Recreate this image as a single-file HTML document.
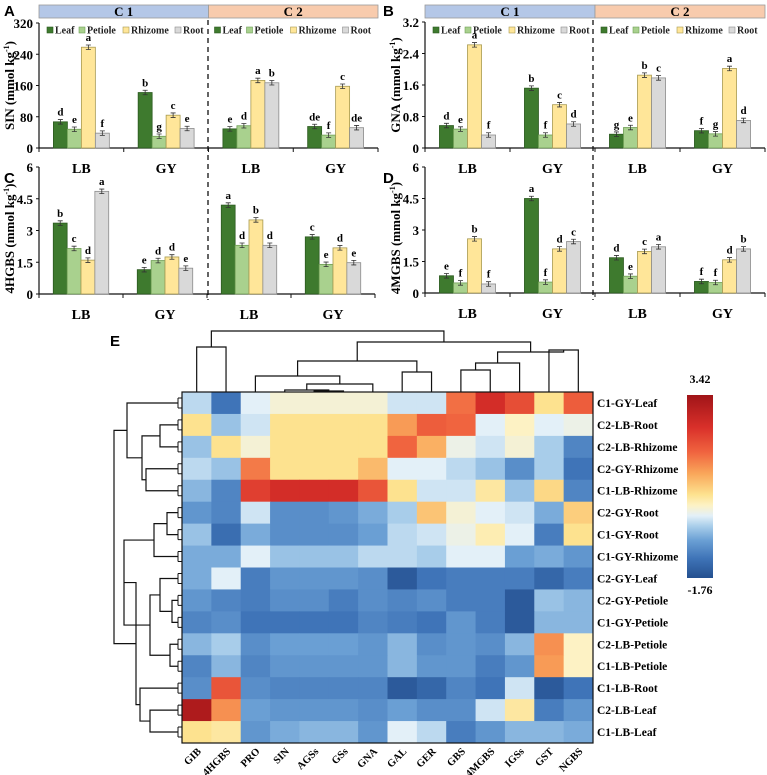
<!DOCTYPE html>
<html><head><meta charset="utf-8">
<style>
html,body{margin:0;padding:0;background:#fff;}
svg{display:block;font-family:"Liberation Serif",serif;}
.pl{font-family:"Liberation Sans",sans-serif;font-weight:bold;font-size:15px;}
</style></head>
<body>
<svg id="fig" width="767" height="775" viewBox="0 0 767 775" xmlns="http://www.w3.org/2000/svg">
<g id="bars"></g>
<g id="heat"></g>
</svg>
<script>
// ---------- bar chart data ----------
const categories = ["LB","GY","LB","GY"];
const conditions = ["C 1","C 2"];
const tissues = ["Leaf","Petiole","Rhizome","Root"];
const sinValues = [[67,48,258,38],[142,30,84,50],[49,57,173,167],[55,33,158,52]];
const sinLetters = [["d","e","a","f"],["b","g","c","e"],["e","d","a","b"],["de","f","c","de"]];
const gnaValues = [[0.57,0.48,2.62,0.33],[1.52,0.33,1.1,0.61],[0.35,0.52,1.85,1.78],[0.44,0.36,2.02,0.7]];
const gnaLetters = [["d","e","a","f"],["b","f","c","d"],["g","e","b","c"],["f","g","a","d"]];
const hgbsValues = [[3.35,2.15,1.6,4.85],[1.15,1.58,1.75,1.22],[4.2,2.3,3.5,2.3],[2.7,1.4,2.18,1.48]];
const hgbsLetters = [["b","c","d","a"],["e","d","d","e"],["a","d","b","d"],["c","e","d","e"]];
const mgbsValues = [[0.82,0.48,2.58,0.43],[4.5,0.52,2.1,2.45],[1.68,0.8,1.98,2.2],[0.55,0.5,1.58,2.1]];
const mgbsLetters = [["e","f","b","f"],["a","f","d","c"],["d","e","c","a"],["f","f","d","b"]];
const sinTicks = [0,80,160,240,320];
const gnaTicks = ["0","0.8","1.6","2.4","3.2"];
const sixTicks = ["0","1.5","3","4.5","6"];

// ---------- heatmap data ----------
const hmCols = ["GIB","4HGBS","PRO","SIN","AGSs","GSs","GNA","GAL","GER","GBS","4MGBS","IGSs","GST","NGBS"];
const hmRows = ["C1-GY-Leaf","C2-LB-Root","C2-LB-Rhizome","C2-GY-Rhizome","C1-LB-Rhizome","C2-GY-Root","C1-GY-Root","C1-GY-Rhizome","C2-GY-Leaf","C2-GY-Petiole","C1-GY-Petiole","C2-LB-Petiole","C1-LB-Petiole","C1-LB-Root","C2-LB-Leaf","C1-LB-Leaf"];
const hmValues = [
[-0.2,-1.2,0.0,0.2,0.2,0.2,0.2,-0.1,-0.1,1.7,2.6,2.1,0.6,1.9],
[0.6,-0.4,-0.1,0.6,0.6,0.6,0.6,1.3,1.9,1.8,0.0,0.3,0.0,0.1],
[-0.4,0.6,0.2,0.6,0.6,0.6,0.6,1.8,1.1,0.1,-0.1,0.2,-0.3,-1.0],
[-0.2,-0.4,1.6,0.6,0.6,0.6,1.0,0.0,0.0,-0.2,-0.4,-0.9,-0.3,-1.2],
[-0.5,-1.0,2.3,2.6,2.6,2.6,2.0,0.6,-0.1,-0.1,0.5,-0.4,0.7,-1.0],
[-0.8,-1.0,-0.1,-0.9,-0.9,-0.8,-0.6,-0.3,0.9,0.2,0.0,-0.1,-0.6,0.8],
[-0.4,-1.3,-0.6,-0.9,-0.9,-0.9,-0.7,-0.2,-0.1,0.1,0.4,0.0,-1.1,0.6],
[-0.6,-0.6,0.0,-0.4,-0.4,-0.4,-0.2,-0.2,-0.3,0.0,0.0,-0.7,-0.6,-0.8],
[-0.6,0.0,-1.1,-0.8,-0.8,-0.8,-0.9,-1.6,-1.2,-1.1,-1.1,-1.1,-1.4,-1.1],
[-0.8,-1.0,-1.1,-0.9,-0.9,-1.1,-0.9,-1.0,-0.9,-1.1,-1.1,-1.6,-0.4,-0.5],
[-1.0,-0.9,-1.2,-1.2,-1.2,-1.2,-1.0,-1.1,-1.2,-0.8,-1.1,-1.6,-0.5,-0.5],
[-0.5,-0.3,-0.9,-0.7,-0.7,-0.7,-0.8,-0.5,-0.9,-0.8,-0.9,-0.5,1.4,0.3],
[-1.0,-0.5,-1.0,-0.8,-0.8,-0.8,-0.8,-0.5,-0.8,-0.8,-1.1,-0.8,1.3,0.3],
[-0.9,2.0,-0.9,-1.0,-1.0,-1.0,-1.0,-1.6,-1.4,-1.0,-1.2,-0.1,-1.6,-1.2],
[3.2,1.4,-0.7,-0.8,-0.8,-0.8,-0.9,-0.7,-0.9,-0.9,-0.1,0.5,-1.1,-0.8],
[0.6,0.5,-0.8,-0.6,-0.5,-0.5,-0.8,0.0,-0.2,-1.1,-0.8,-0.5,-0.5,-0.6]];
const hmRange = [-1.76, 3.42];

const NS="http://www.w3.org/2000/svg";
function mk(parent, tag, attrs, text){
  const e=document.createElementNS(NS,tag);
  for(const k in attrs) e.setAttribute(k,attrs[k]);
  if(text!==undefined) e.textContent=text;
  parent.appendChild(e); return e;
}
const barsG=document.getElementById('bars');
const fills=["#3e7a2e","#a9d18e","#ffe699","#d9d9d9"];
const strokes=["#2c5a20","#6f9f55","#a89a50","#8c8c8c"];

function panel(o){
  const g=mk(barsG,'g',{});
  
  
  const maxV=o.max;
  const ys=v=>o.y0-(v/maxV)*(o.y0-o.yt);
  const cw=(o.x1-o.x0)/4, bw=cw*0.165;
  if(o.header){
    const mid=(o.x0+o.x1)/2;
    [[o.x0,mid,"#b4c7e7",conditions[0]],[mid,o.x1,"#f8cbad",conditions[1]]].forEach((h,i)=>{
      const r=mk(g,'rect',{x:h[0],y:5,width:h[1]-h[0],height:13,fill:h[2],stroke:"#9a9a9a","stroke-width":0.8});
      
      
      const t=mk(g,'text',{x:(h[0]+h[1])/2,y:16,"text-anchor":"middle","font-size":13,"font-weight":"bold"},h[3]);
      
      
    });
    [o.x0+8,mid+6].forEach((lx,li)=>{
      const offs=[0,32,76,128];
      tissues.forEach((ts,k)=>{
        const sw=mk(g,'rect',{x:lx+offs[k],y:27,width:6,height:6,fill:fills[k],stroke:strokes[k],"stroke-width":0.6});
        
        
        const t=mk(g,'text',{x:lx+offs[k]+8,y:33.5,"font-size":10,"font-weight":"bold",fill:"#222"},ts);
        
        
      });
    });
  }
  const ax=mk(g,'path',{d:`M${o.x0},${o.yt} L${o.x0},${o.y0} L${o.x1},${o.y0}`,fill:"none",stroke:"#111","stroke-width":1.2});
  
  
  o.ticks.forEach((tk,i)=>{
    const v=maxV*i/(o.ticks.length-1);
    const y=ys(v);
    mk(g,'line',{x1:o.x0-3,x2:o.x0,y1:y,y2:y,stroke:"#111","stroke-width":1});
    const t=mk(g,'text',{x:o.x0-6,y:y+5,"text-anchor":"end","font-size":13,"font-weight":"bold"},tk);
    
    
  });
  for(let c=0;c<=4;c++){ const x=o.x0+c*cw; mk(g,'line',{x1:x,x2:x,y1:o.y0,y2:o.y0+4,stroke:"#111","stroke-width":1}); }
  categories.forEach((cat,c)=>{
    const t=mk(g,'text',{x:o.x0+(c+0.5)*cw,y:o.y0+25,"text-anchor":"middle","font-size":14,"font-weight":"bold"},cat);
    
    
    o.vals[c].forEach((v,k)=>{
      const bx=o.x0+c*cw+(cw-4*bw)/2+k*bw;
      const y=ys(v);
      const r=mk(g,'rect',{x:bx,y:y,width:bw,height:o.y0-y,fill:fills[k],stroke:strokes[k],"stroke-width":0.8});
      
      
      const e=(o.y0-o.yt)*0.018;
      mk(g,'path',{d:`M${bx+bw/2},${y-e}V${y+e}M${bx+bw/2-2.5},${y-e}h5M${bx+bw/2-2.5},${y+e}h5`,stroke:"#333","stroke-width":0.8,fill:"none"});
      const lt=mk(g,'text',{x:bx+bw/2,y:y-e-4,"text-anchor":"middle","font-size":11,"font-weight":"bold"},o.letters[c][k]);
      
      
    });
  });
  const yt=mk(g,'text',{x:0,y:0,"text-anchor":"middle","font-size":13,"font-weight":"bold",transform:`translate(${o.x0-25},${(o.y0+o.yt)/2+o.tdy}) rotate(-90)`});
  
  
  yt.innerHTML=o.ytitle+' (mmol kg<tspan dy="-5" font-size="8">-1</tspan><tspan dy="5">)</tspan>';
  const pl=mk(g,'text',{x:o.plx,y:o.ply,class:"pl"},o.label);
  
  
}
panel({name:'panel-a-sin',x0:39,x1:378,y0:148,yt:23,max:320,ticks:sinTicks,vals:sinValues,letters:sinLetters,header:true,ytitle:"SIN",label:"A",plx:4,ply:16,tdy:0});
panel({name:'panel-b-gna',x0:425,x1:765,y0:148,yt:22,max:3.2,ticks:gnaTicks,vals:gnaValues,letters:gnaLetters,header:true,ytitle:"GNA",label:"B",plx:383,ply:16,tdy:0});
panel({name:'panel-c-4hgbs',x0:39,x1:375,y0:294,yt:167,max:6,ticks:sixTicks,vals:hgbsValues,letters:hgbsLetters,header:false,ytitle:"4HGBS",label:"C",plx:4,ply:183,tdy:8});
panel({name:'panel-d-4mgbs',x0:425,x1:765,y0:293,yt:167,max:6,ticks:sixTicks,vals:mgbsValues,letters:mgbsLetters,header:false,ytitle:"4MGBS",label:"D",plx:383,ply:183,tdy:8});
[[208,20,300],[593,20,300]].forEach(d=>{
  const l=mk(barsG,'line',{x1:d[0],x2:d[0],y1:d[1],y2:d[2],stroke:"#111","stroke-width":1.3,"stroke-dasharray":"5,4"});
  
  
});

// ---------- heatmap ----------
const hg=document.getElementById('heat');
const HX0=182,HX1=593,HY0=392,HY1=743;
const cwid=(HX1-HX0)/hmCols.length, rh=(HY1-HY0)/hmRows.length;
const stops=[[-1.76,[36,80,143]],[-1.2,[63,116,184]],[-0.7,[106,159,212]],[-0.3,[168,205,234]],[0,[227,240,248]],[0.3,[253,242,196]],[0.6,[253,226,143]],[1.2,[249,166,90]],[1.8,[240,100,63]],[2.5,[217,48,42]],[3.42,[160,20,24]]];
function cmap(v){
  v=Math.max(hmRange[0],Math.min(hmRange[1],v));
  for(let i=0;i<stops.length-1;i++){
    const a=stops[i],b=stops[i+1];
    if(v<=b[0]){const t=(v-a[0])/(b[0]-a[0]);return `rgb(${a[1].map((c,j)=>Math.round(c+(b[1][j]-c)*t)).join(',')})`;}
  }
  return 'rgb(160,20,24)';
}
const colX=i=>HX0+cwid*(i+0.5), rowY=i=>HY0+rh*(i+0.5);
hmValues.forEach((row,r)=>row.forEach((v,c)=>{
  const cell=mk(hg,'rect',{x:HX0+c*cwid,y:HY0+r*rh,width:cwid+0.5,height:rh+0.5,fill:cmap(v)});
  
  
}));
const frame=mk(hg,'rect',{x:HX0,y:HY0,width:HX1-HX0,height:HY1-HY0,fill:"none",stroke:"#111","stroke-width":1.2});


hmRows.forEach((n,r)=>{
  const t=mk(hg,'text',{x:HX1+4,y:rowY(r)+4,"font-size":11.5,"font-weight":"bold"},n);
  
  
});
hmCols.forEach((n,c)=>{
  const x=colX(c)+5,y=HY1+9;
  const t=mk(hg,'text',{x:x,y:y,"text-anchor":"end","font-size":10.5,"font-weight":"bold",transform:`rotate(-45 ${x} ${y})`},n);
  
  
});
function L(i){return {leaf:i};}
function J(a,b,h){return {a:a,b:b,h:h};}
const colTree=J(J(L(0),L(1),347),J(J(J(L(2),J(J(L(3),J(L(4),L(5),391),390),L(6),384),376),J(L(7),L(8),372),361),J(J(J(L(9),L(10),370),L(11),363),J(L(12),L(13),350),352),342),331);
const rowTree=J(J(L(0),J(J(L(1),L(2),160),J(L(3),L(4),146),142),127),
  J(J(J(J(L(5),L(6),167),L(7),154),J(J(L(8),J(L(9),L(10),172),160),J(L(11),L(12),170),150),124),J(L(13),J(L(14),L(15),150),140),136),114);
function drawTree(node,pos,base,vertical){
  if(node.leaf!==undefined) return {p:pos(node.leaf),h:base};
  const A=drawTree(node.a,pos,base,vertical),B=drawTree(node.b,pos,base,vertical);
  const d=vertical?`M${A.p},${A.h}V${node.h}H${B.p}V${B.h}`:`M${A.h},${A.p}H${node.h}V${B.p}H${B.h}`;
  const p=mk(hg,'path',{d:d,fill:"none",stroke:"#111","stroke-width":1.2});
  
  
  return {p:(A.p+B.p)/2,h:node.h};
}
drawTree(colTree,colX,HY0,true);
drawTree(rowTree,rowY,HX0-4,false);
hmRows.forEach((n,r)=>{ mk(hg,'path',{d:`M${HX0-4},${rowY(r)-5}V${rowY(r)+5}M${HX0-4},${rowY(r)-5}H${HX0}M${HX0-4},${rowY(r)+5}H${HX0}`,fill:"none",stroke:"#111","stroke-width":1}); });
const CB={x:687,w:26,y0:395,y1:578};
const grad=mk(hg,'defs',{});
const lg=mk(grad,'linearGradient',{id:"cbg",x1:0,y1:1,x2:0,y2:0});
stops.forEach(s=>mk(lg,'stop',{offset:((s[0]-hmRange[0])/(hmRange[1]-hmRange[0])),"stop-color":cmap(s[0])}));
const cb=mk(hg,'rect',{x:CB.x,y:CB.y0,width:CB.w,height:CB.y1-CB.y0,fill:"url(#cbg)"});


const cmax=mk(hg,'text',{x:CB.x+CB.w/2,y:CB.y0-12,"text-anchor":"middle","font-size":12,"font-weight":"bold"},hmRange[1].toFixed(2));


const cmin=mk(hg,'text',{x:CB.x+CB.w/2,y:CB.y1+16,"text-anchor":"middle","font-size":12,"font-weight":"bold"},hmRange[0].toFixed(2));


const pe=mk(hg,'text',{x:110,y:346,class:"pl"},"E");


</script>
</body></html>
